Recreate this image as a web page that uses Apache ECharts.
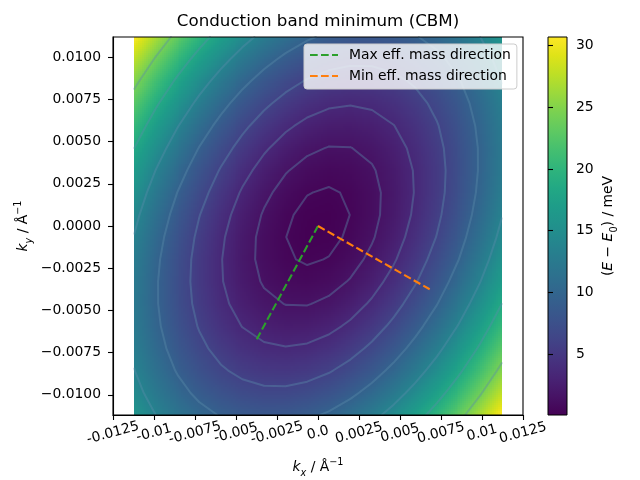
<!DOCTYPE html>
<html><head><meta charset="utf-8">
<script src="https://cdn.jsdelivr.net/npm/echarts@6/dist/echarts.min.js"></script>
<style>html,body{margin:0;padding:0;background:#fff}#c{width:640px;height:480px}</style>
</head><body><div id="c"></div>
<script>
// ---- data ----
const kx = [-0.0112,-0.009882,-0.008565,-0.007247,-0.005929,-0.004612,-0.003294,-0.001976,-0.000659,0.000659,0.001976,0.003294,0.004612,0.005929,0.007247,0.008565,0.009882,0.0112];
const ky = [-0.0112,-0.009882,-0.008565,-0.007247,-0.005929,-0.004612,-0.003294,-0.001976,-0.000659,0.000659,0.001976,0.003294,0.004612,0.005929,0.007247,0.008565,0.009882,0.0112];
// energy[j][i] in meV at (kx[i], ky[j])
const energy = [
 [15.83,13.62,11.80,10.36,9.31,8.65,8.36,8.47,8.96,9.83,11.09,12.74,14.77,17.18,19.98,23.17,26.74,30.70],
 [14.64,12.33,10.40,8.86,7.71,6.94,6.55,6.55,6.94,7.71,8.87,10.41,12.34,14.65,17.35,20.43,23.90,27.75],
 [13.70,11.29,9.26,7.62,6.36,5.49,5.00,4.90,5.18,5.85,6.90,8.34,10.17,12.38,14.97,17.95,21.31,25.07],
 [13.02,10.51,8.37,6.63,5.27,4.29,3.70,3.50,3.68,4.24,5.20,6.53,8.25,10.36,12.85,15.73,18.99,22.64],
 [12.60,9.98,7.75,5.90,4.44,3.36,2.67,2.36,2.44,2.90,3.75,4.98,6.60,8.60,10.99,13.77,16.93,20.47],
 [12.44,9.72,7.38,5.43,3.87,2.69,1.89,1.48,1.45,1.81,2.56,3.69,5.21,7.11,9.39,12.06,15.12,18.56],
 [12.54,9.72,7.28,5.22,3.55,2.27,1.37,0.86,0.73,0.99,1.63,2.66,4.07,5.87,8.05,10.62,13.57,16.91],
 [12.90,9.97,7.43,5.27,3.50,2.11,1.11,0.49,0.26,0.42,0.96,1.88,3.19,4.89,6.97,9.43,12.28,15.52],
 [13.51,10.48,7.84,5.58,3.70,2.21,1.11,0.39,0.05,0.11,0.54,1.37,2.57,4.16,6.14,8.50,11.25,14.39],
 [14.39,11.25,8.50,6.14,4.16,2.57,1.37,0.54,0.11,0.05,0.39,1.11,2.21,3.70,5.58,7.84,10.48,13.51],
 [15.52,12.28,9.43,6.97,4.89,3.19,1.88,0.96,0.42,0.26,0.49,1.11,2.11,3.50,5.27,7.43,9.97,12.90],
 [16.91,13.57,10.62,8.05,5.87,4.07,2.66,1.63,0.99,0.73,0.86,1.37,2.27,3.55,5.22,7.28,9.72,12.54],
 [18.56,15.12,12.06,9.39,7.11,5.21,3.69,2.56,1.81,1.45,1.48,1.89,2.69,3.87,5.43,7.38,9.72,12.44],
 [20.47,16.93,13.77,10.99,8.60,6.60,4.98,3.75,2.90,2.44,2.36,2.67,3.36,4.44,5.90,7.75,9.98,12.60],
 [22.64,18.99,15.73,12.85,10.36,8.25,6.53,5.20,4.24,3.68,3.50,3.70,4.29,5.27,6.63,8.37,10.51,13.02],
 [25.07,21.31,17.95,14.97,12.38,10.17,8.34,6.90,5.85,5.18,4.90,5.00,5.49,6.36,7.62,9.26,11.29,13.70],
 [27.75,23.90,20.43,17.35,14.65,12.34,10.41,8.87,7.71,6.94,6.55,6.55,6.94,7.71,8.86,10.40,12.33,14.64],
 [30.70,26.74,23.17,19.98,17.18,14.77,12.74,11.09,9.83,8.96,8.47,8.36,8.65,9.31,10.36,11.80,13.62,15.83]
];
const contourLevels = [0.38, 1.52, 3.41, 6.06, 9.48, 13.64, 18.57, 24.26];
const maxDir = [[0, 0], [-0.00376, -0.00676]];
const minDir = [[0, 0], [0.00681, -0.00375]];
const xTickValues = [-0.0125,-0.01,-0.0075,-0.005,-0.0025,0,0.0025,0.005,0.0075,0.01,0.0125];
const xTickLabels = ['-0.0125','-0.01','-0.0075','-0.005','-0.0025','0.0','0.0025','0.005','0.0075','0.01','0.0125'];
const yTickValues = [-0.01,-0.0075,-0.005,-0.0025,0,0.0025,0.005,0.0075,0.01];
const yTickLabels = ['\u22120.0100','\u22120.0075','\u22120.0050','\u22120.0025','0.0000','0.0025','0.0050','0.0075','0.0100'];
const cbTickValues = [5, 10, 15, 20, 25, 30];

// ---- styling ----
const FONT = 'DejaVu Sans';
const FS = 13.9;
const X_MIN = -0.0125, X_MAX = 0.0125, Y_MIN = -0.0112, Y_MAX = 0.0112;
const viridis = ['#440154','#471365','#482475','#463480','#414487','#3b528b','#355f8d','#2f6c8e','#2a788e','#25848e','#21918c','#1e9c89','#22a884','#2fb47c','#44bf70','#5ec962','#7ad151','#9bd93c','#bddf26','#dfe318','#fde725'];
const vrgb = viridis.map(h => [parseInt(h.slice(1,3),16), parseInt(h.slice(3,5),16), parseInt(h.slice(5,7),16)]);
let cbMin = Infinity, cbMax = -Infinity;
energy.forEach(r => r.forEach(v => { cbMin = Math.min(cbMin, v); cbMax = Math.max(cbMax, v); }));
function cmap(v) {
  let t = (v - cbMin) / (cbMax - cbMin); t = Math.max(0, Math.min(1, t));
  const f = t * (vrgb.length - 1); const k = Math.min(vrgb.length - 2, Math.floor(f)); const u = f - k;
  const a = vrgb[k], b = vrgb[k + 1];
  return 'rgb(' + Math.round(a[0] + (b[0]-a[0])*u) + ',' + Math.round(a[1] + (b[1]-a[1])*u) + ',' + Math.round(a[2] + (b[2]-a[2])*u) + ')';
}
const cells = [];
for (let j = 0; j < ky.length - 1; j++) for (let i = 0; i < kx.length - 1; i++) cells.push([i, j]);

function renderCell(params, api) {
  const i = api.value(0), j = api.value(1);
  const e00 = energy[j][i], e10 = energy[j][i+1], e01 = energy[j+1][i], e11 = energy[j+1][i+1];
  const p0 = api.coord([kx[i], ky[j]]), p1 = api.coord([kx[i+1], ky[j+1]]);
  const S = 11, children = [];
  const X = [], Y = [];
  for (let a = 0; a <= S; a++) { X.push(Math.round(p0[0] + (p1[0] - p0[0]) * a / S)); Y.push(Math.round(p0[1] + (p1[1] - p0[1]) * a / S)); }
  for (let a = 0; a < S; a++) for (let b = 0; b < S; b++) {
    const w = X[a+1] - X[a], h = Y[b] - Y[b+1];
    if (w <= 0 || h <= 0) continue;
    const u = (a + 0.5) / S, v = (b + 0.5) / S;
    const e = e00*(1-u)*(1-v) + e10*u*(1-v) + e01*(1-u)*v + e11*u*v;
    children.push({type: 'rect', shape: {x: X[a], y: Y[b+1], width: w, height: h}, style: {fill: cmap(e)}});
  }
  return {type: 'group', children: children, silent: true};
}
function renderContour(params, api) {
  const L = api.value(0);
  let d = '';
  for (let j = 0; j < ky.length - 1; j++) for (let i = 0; i < kx.length - 1; i++) {
    const c = [[i,j],[i+1,j],[i+1,j+1],[i,j+1]];
    const pts = [];
    for (let e = 0; e < 4; e++) {
      const A = c[e], B = c[(e+1)%4];
      const va = energy[A[1]][A[0]], vb = energy[B[1]][B[0]];
      if ((va - L) * (vb - L) < 0) {
        const t = (L - va) / (vb - va);
        pts.push(api.coord([kx[A[0]] + t*(kx[B[0]] - kx[A[0]]), ky[A[1]] + t*(ky[B[1]] - ky[A[1]])]));
      }
    }
    for (let q = 0; q + 1 < pts.length; q += 2) d += 'M' + pts[q][0].toFixed(2) + ' ' + pts[q][1].toFixed(2) + 'L' + pts[q+1][0].toFixed(2) + ' ' + pts[q+1][1].toFixed(2);
  }
  return {type: 'path', shape: {pathData: d}, style: {fill: null, stroke: 'rgba(90,140,170,0.40)', lineWidth: 2, lineCap: 'round', lineJoin: 'round'}, silent: true};
}
function renderColorbar(params, api) {
  const p0 = api.coord([0, cbMin]), p1 = api.coord([1, cbMax]);
  return {type: 'rect', shape: {x: p0[0], y: p1[1], width: p1[0]-p0[0], height: p0[1]-p1[1]},
    style: {fill: new echarts.graphic.LinearGradient(0, 1, 0, 0, viridis.map((c, k) => ({offset: k/(viridis.length-1), color: c}))), stroke: '#000', lineWidth: 1}};
}
// x tick labels: placed at each tick value through the x scale, rotated 15 degrees about their centre
function renderXLabel(params, api) {
  const k = api.value(1);
  const p = api.coord([api.value(0), Y_MIN]);
  return {type: 'text', x: p[0], y: p[1] + 18, rotation: 15 * Math.PI / 180, silent: true,
    style: {text: xTickLabels[k], fill: '#000', fontFamily: FONT, fontSize: FS, align: 'center', verticalAlign: 'middle'}};
}
const labelRich = {
  i: {fontFamily: FONT, fontStyle: 'italic', fontSize: FS, lineHeight: 21, color: '#000'},
  n: {fontFamily: FONT, fontSize: FS, lineHeight: 21, color: '#000'},
  s: {fontFamily: FONT, fontStyle: 'italic', fontSize: 9.7, lineHeight: 13, verticalAlign: 'bottom', color: '#000'},
  d: {fontFamily: FONT, fontSize: 9.7, lineHeight: 13, verticalAlign: 'bottom', color: '#000'},
  p: {fontFamily: FONT, fontSize: 9.7, lineHeight: 12, verticalAlign: 'top', color: '#000'}
};
const dashIcon = 'path://M0 0M0 14M0 6h7.7v2.1H0z M11 6h7.7v2.1h-7.7z M22 6h6v2.1h-6z';
const chart = echarts.init(document.getElementById('c'), null, {renderer: 'canvas'});
chart.setOption({
  animation: false,
  backgroundColor: '#fff',
  title: {text: 'Conduction band minimum (CBM)', left: 318, top: 13, textAlign: 'center', padding: 0,
    textStyle: {fontFamily: FONT, fontSize: 16.7, fontWeight: 'normal', color: '#000'}},
  legend: {
    data: [{name: 'Max eff. mass direction', icon: dashIcon}, {name: 'Min eff. mass direction', icon: dashIcon}],
    orient: 'vertical', left: 304, top: 44, padding: [4, 6, 6, 6], itemGap: 7, itemWidth: 28, itemHeight: 14,
    backgroundColor: 'rgba(255,255,255,0.8)', borderColor: '#cccccc', borderWidth: 1, borderRadius: 3,
    textStyle: {fontFamily: FONT, fontSize: FS, color: '#000', lineHeight: 14, padding: [0, 0, 0, 6]}
  },
  grid: [
    {left: 113, top: 37, width: 410, height: 378, containLabel: false, outerBoundsMode: 'none', show: true, borderColor: '#000', borderWidth: 1.1, backgroundColor: 'rgba(0,0,0,0)', z: 5},
    {left: 548, top: 37, width: 19, height: 378, containLabel: false, outerBoundsMode: 'none'}
  ],
  xAxis: [
    {type: 'value', gridIndex: 0, min: X_MIN, max: X_MAX, interval: 0.0025, z: 6,
      axisLine: {show: true, onZero: false, lineStyle: {color: '#000', width: 1.1}},
      axisTick: {show: true, length: 5, customValues: xTickValues, lineStyle: {color: '#000', width: 1.1}},
      splitLine: {show: false},
      axisLabel: {show: false},
      name: '{i|k}{s|x}{n| / Å}{p|\u22121}', nameLocation: 'middle', nameGap: 42, nameMoveOverlap: false,
      nameTextStyle: {fontFamily: FONT, fontSize: FS, color: '#000', rich: labelRich}},
    {type: 'value', gridIndex: 1, min: 0, max: 1, show: false}
  ],
  yAxis: [
    {type: 'value', gridIndex: 0, min: Y_MIN, max: Y_MAX, z: 6,
      axisLine: {show: true, onZero: false, lineStyle: {color: '#000', width: 1.1}},
      axisTick: {show: true, length: 5, customValues: yTickValues, lineStyle: {color: '#000', width: 1.1}},
      splitLine: {show: false},
      axisLabel: {show: true, customValues: yTickValues, hideOverlap: false, margin: 12, color: '#000', fontFamily: FONT, fontSize: FS,
        formatter: v => { let best = 0; yTickValues.forEach((t, k) => { if (Math.abs(t - v) < Math.abs(yTickValues[best] - v)) best = k; }); return yTickLabels[best]; }},
      name: '{i|k}{s|y}{n| / Å}{p|\u22121}', nameLocation: 'middle', nameGap: 79, nameRotate: 90, nameMoveOverlap: false,
      nameTextStyle: {fontFamily: FONT, fontSize: FS, color: '#000', rich: labelRich}},
    {type: 'value', gridIndex: 1, position: 'right', min: cbMin, max: cbMax, z: 6,
      axisLine: {show: false},
      axisTick: {show: true, length: 5, customValues: cbTickValues, lineStyle: {color: '#000', width: 1.1}},
      splitLine: {show: false},
      axisLabel: {show: true, customValues: cbTickValues, margin: 9, color: '#000', fontFamily: FONT, fontSize: FS, formatter: v => String(Math.round(v))},
      name: '{n|(}{i|E}{n| \u2212 }{i|E}{d|0}{n|) / meV}', nameLocation: 'middle', nameGap: 31, nameRotate: 90, nameMoveOverlap: false,
      nameTextStyle: {fontFamily: FONT, fontSize: FS, color: '#000', rich: labelRich}}
  ],
  series: [
    {type: 'custom', name: 'energy', xAxisIndex: 0, yAxisIndex: 0, data: cells, renderItem: renderCell, z: 1, silent: true},
    {type: 'custom', name: 'contours', xAxisIndex: 0, yAxisIndex: 0, data: contourLevels.map(v => [v]), renderItem: renderContour, z: 2, silent: true},
    {type: 'line', name: 'Max eff. mass direction', xAxisIndex: 0, yAxisIndex: 0, data: maxDir, symbol: 'none', z: 3,
      lineStyle: {color: '#2ca02c', width: 2.1, type: [7.7, 3.3]}, itemStyle: {color: '#2ca02c'}},
    {type: 'line', name: 'Min eff. mass direction', xAxisIndex: 0, yAxisIndex: 0, data: minDir, symbol: 'none', z: 3,
      lineStyle: {color: '#ff7f0e', width: 2.1, type: [7.7, 3.3]}, itemStyle: {color: '#ff7f0e'}},
    {type: 'custom', name: 'colorbar', xAxisIndex: 1, yAxisIndex: 1, data: [[0]], renderItem: renderColorbar, z: 2, silent: true},
    {type: 'custom', name: 'xTickLabels', xAxisIndex: 0, yAxisIndex: 0, clip: false, data: xTickValues.map((v, k) => [v, k]), renderItem: renderXLabel, zlevel: 1, z: 10, silent: true}
  ]
});
</script></body></html>
